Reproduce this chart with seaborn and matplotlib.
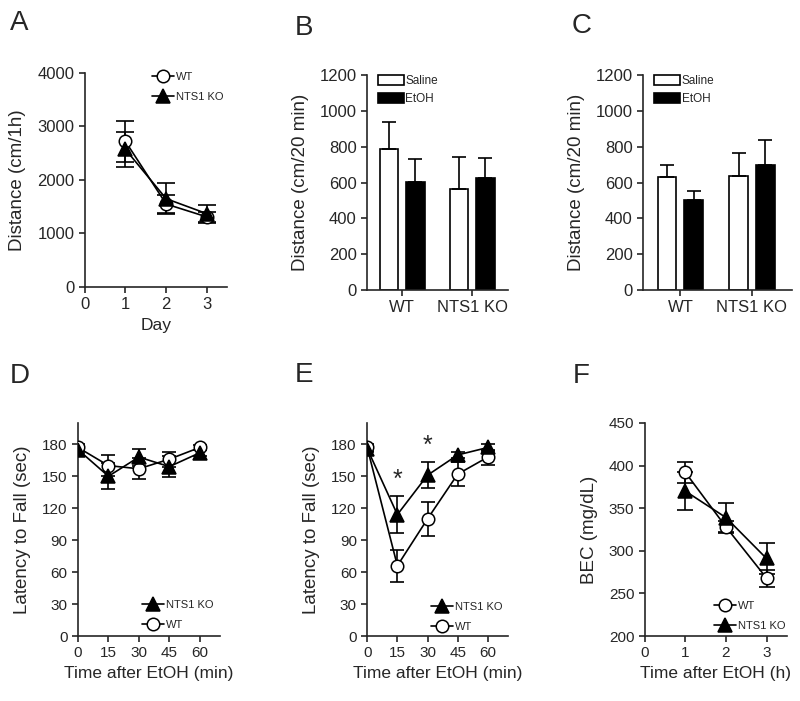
import matplotlib
matplotlib.use("Agg")

import numpy as np
import pandas as pd
import matplotlib.pyplot as plt
import seaborn as sns

# DATA
days = [1, 2, 3]
a_wt = [2720, 1550, 1310]
a_wt_err = [390, 170, 100]
a_ko = [2570, 1650, 1370]
a_ko_err = [330, 290, 165]

genotypes = ["WT", "NTS1 KO"]
treatments = ["Saline", "EtOH"]
b_saline = [785, 565]
b_saline_err = [150, 175]
b_etoh = [605, 625]
b_etoh_err = [125, 110]
c_saline = [630, 635]
c_saline_err = [65, 130]
c_etoh = [500, 695]
c_etoh_err = [50, 140]

minutes = [0, 15, 30, 45, 60]
d_wt = [177, 160, 157, 166, 177]
d_wt_err = [3, 10, 10, 7, 2]
d_ko = [175, 150, 168, 159, 172]
d_ko_err = [3, 12, 8, 10, 3]
e_wt = [177, 66, 110, 152, 168]
e_wt_err = [3, 15, 16, 11, 7]
e_ko = [176, 114, 151, 170, 177]
e_ko_err = [3, 17, 12, 3, 3]
e_signif = [15, 30]

hours = [1, 2, 3]
f_wt = [392, 328, 268]
f_wt_err = [12, 7, 10]
f_ko = [370, 339, 291]
f_ko_err = [22, 17, 18]

sns.set_style("ticks")
plt.rcParams["font.family"] = ["Liberation Sans", "DejaVu Sans"]
plt.rcParams["axes.linewidth"] = 1.2
plt.rcParams["xtick.major.width"] = 1.2
plt.rcParams["ytick.major.width"] = 1.2
plt.rcParams["xtick.major.size"] = 4
plt.rcParams["ytick.major.size"] = 4
plt.rcParams["xtick.labelsize"] = 11
plt.rcParams["ytick.labelsize"] = 11
plt.rcParams["axes.labelsize"] = 12.5

fig = plt.figure(figsize=(8, 7.01), dpi=100)


# draw one genotype series with mean +/- sem
def draw_series(ax, x, y, err, label, filled, cap):
    if filled:
        style = dict(marker="^", markersize=9.5, markerfacecolor="black")
    else:
        style = dict(marker="o", markersize=9, markerfacecolor="white")
    sns.lineplot(x=x, y=y, ax=ax, color="black", linewidth=1.2, label=label,
                 markeredgecolor="black", markeredgewidth=1.1, zorder=3, **style)
    ax.errorbar(x, y, yerr=err, fmt="none", ecolor="black", elinewidth=1.2,
                capsize=cap, capthick=1.2, zorder=2)


def line_legend(ax, order, anchor):
    handles, labels = ax.get_legend_handles_labels()
    lookup = dict(zip(labels, handles))
    ax.legend([lookup[k] for k in order], order, loc="upper left", bbox_to_anchor=anchor,
              frameon=False, fontsize=8, handlelength=2, handletextpad=0.15,
              borderaxespad=0, labelspacing=0.9)


def style_axis(ax, ylabel, xlabel=None, top=False):
    ax.set_ylabel(ylabel, fontsize=13.5, labelpad=8)
    if xlabel is not None:
        ax.set_xlabel(xlabel)
    if top:
        ax.tick_params(labelsize=12)
    sns.despine(ax=ax)


# draw grouped bars with upward sem
def bar_panel(ax, saline, saline_err, etoh, etoh_err, xlim):
    df = pd.DataFrame({
        "genotype": genotypes * 2,
        "treatment": [treatments[0]] * 2 + [treatments[1]] * 2,
        "distance": saline + etoh,
    })
    sns.barplot(data=df, x="genotype", y="distance", hue="treatment", ax=ax,
                palette={"Saline": "white", "EtOH": "black"}, edgecolor="black",
                linewidth=1.2, width=0.75, gap=0.3, errorbar=None)
    for cont, errs in zip(ax.containers, [saline_err, etoh_err]):
        for bar, e in zip(cont, errs):
            xc = bar.get_x() + bar.get_width() / 2
            ax.errorbar([xc], [bar.get_height()], yerr=[[0], [e]], fmt="none",
                        ecolor="black", elinewidth=1.2, capsize=5, capthick=1.2)
    ax.set_ylim(0, 1200)
    ax.set_yticks(range(0, 1201, 200))
    ax.set_xlim(*xlim)
    ax.set_xlabel("")
    ax.legend(loc="upper left", bbox_to_anchor=(0.04, 1.02), frameon=False, fontsize=8.5,
              handlelength=2.2, handleheight=0.9, handletextpad=0.15, borderaxespad=0,
              labelspacing=0.45)
    style_axis(ax, "Distance (cm/20 min)", top=True)


# A
ax = fig.add_axes([0.106, 0.5906, 0.178, 0.3053])
draw_series(ax, days, a_wt, a_wt_err, "WT", False, 6.5)
draw_series(ax, days, a_ko, a_ko_err, "NTS1 KO", True, 6.5)
ax.set_xlim(0, 3.5)
ax.set_ylim(0, 4000)
ax.set_xticks([0, 1, 2, 3])
ax.set_yticks(range(0, 4001, 1000))
line_legend(ax, ["WT", "NTS1 KO"], (0.44, 1.025))
style_axis(ax, "Distance (cm/1h)", "Day", top=True)

# B
ax = fig.add_axes([0.459, 0.5863, 0.176, 0.3067])
bar_panel(ax, b_saline, b_saline_err, b_etoh, b_etoh_err, (-0.5, 1.51))

# C
ax = fig.add_axes([0.804, 0.5863, 0.186, 0.3067])
bar_panel(ax, c_saline, c_saline_err, c_etoh, c_etoh_err, (-0.52, 1.56))

# D
ax = fig.add_axes([0.0975, 0.0927, 0.1775, 0.3039])
draw_series(ax, minutes, d_wt, d_wt_err, "WT", False, 5)
draw_series(ax, minutes, d_ko, d_ko_err, "NTS1 KO", True, 5)
ax.set_xlim(0, 70)
ax.set_ylim(0, 200)
ax.set_xticks(minutes)
ax.set_yticks(range(0, 181, 30))
line_legend(ax, ["NTS1 KO", "WT"], (0.42, 0.19))
style_axis(ax, "Latency to Fall (sec)", "Time after EtOH (min)")

# E
ax = fig.add_axes([0.459, 0.0927, 0.176, 0.3039])
draw_series(ax, minutes, e_wt, e_wt_err, "WT", False, 5)
draw_series(ax, minutes, e_ko, e_ko_err, "NTS1 KO", True, 5)
for t in e_signif:
    i = minutes.index(t)
    ax.text(t, e_ko[i] + e_ko_err[i] + 4, "*", ha="center", va="bottom", fontsize=18)
ax.set_xlim(0, 70)
ax.set_ylim(0, 200)
ax.set_xticks(minutes)
ax.set_yticks(range(0, 181, 30))
line_legend(ax, ["NTS1 KO", "WT"], (0.42, 0.18))
style_axis(ax, "Latency to Fall (sec)", "Time after EtOH (min)")

# F
ax = fig.add_axes([0.806, 0.0927, 0.1775, 0.3039])
draw_series(ax, hours, f_wt, f_wt_err, "WT", False, 6)
draw_series(ax, hours, f_ko, f_ko_err, "NTS1 KO", True, 6)
ax.set_xlim(0, 3.5)
ax.set_ylim(200, 450)
ax.set_xticks([0, 1, 2, 3])
ax.set_yticks(range(200, 451, 50))
line_legend(ax, ["WT", "NTS1 KO"], (0.455, 0.185))
style_axis(ax, "BEC (mg/dL)", "Time after EtOH (h)")

# panel letters
for letter, x, y in [("A", 10, 30), ("B", 295, 35), ("C", 572, 33),
                     ("D", 10, 383), ("E", 295, 382), ("F", 573, 383)]:
    fig.text(x / 800, 1 - y / 701, letter, fontsize=20, ha="left", va="baseline")

fig.savefig("out.png", dpi=100)
